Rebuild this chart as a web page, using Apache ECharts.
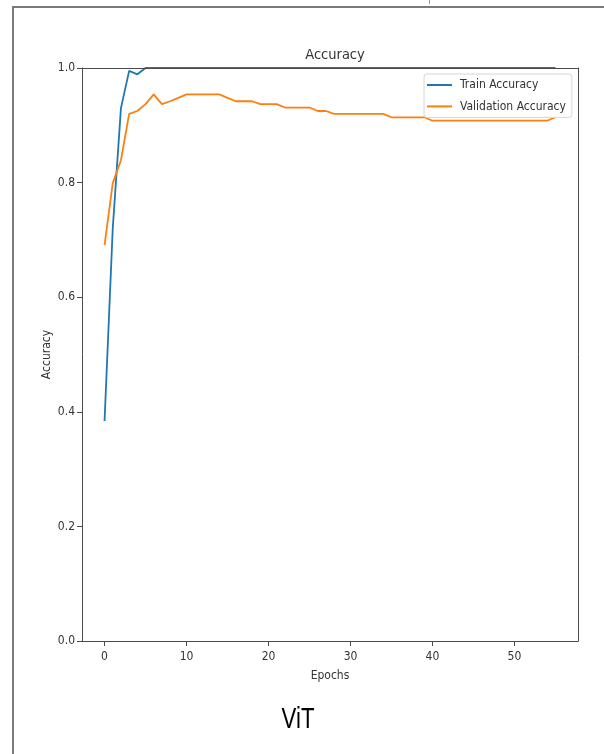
<!DOCTYPE html>
<html>
<head>
<meta charset="utf-8">
<title>ViT accuracy</title>
<script src="https://cdn.jsdelivr.net/npm/echarts@6/dist/echarts.min.js"></script>
<style>
  html, body { margin: 0; padding: 0; background: #ffffff; }
  #chart { width: 604px; height: 754px; }
</style>
</head>
<body>
<div id="chart"></div>
<script>
// Per-epoch accuracy of the ViT model
const epochs = Array.from({ length: 56 }, (_, i) => i);
const trainAccuracy = [
  0.384, 0.720, 0.930, 0.995, 0.989, 1.000, 1.000, 1.000, 1.000, 1.000,
  1.000, 1.000, 1.000, 1.000, 1.000, 1.000, 1.000, 1.000, 1.000, 1.000,
  1.000, 1.000, 1.000, 1.000, 1.000, 1.000, 1.000, 1.000, 1.000, 1.000,
  1.000, 1.000, 1.000, 1.000, 1.000, 1.000, 1.000, 1.000, 1.000, 1.000,
  1.000, 1.000, 1.000, 1.000, 1.000, 1.000, 1.000, 1.000, 1.000, 1.000,
  1.000, 1.000, 1.000, 1.000, 1.000, 1.000
];
const validationAccuracy = [
  0.691, 0.799, 0.839, 0.920, 0.925, 0.937, 0.954, 0.937, 0.942, 0.948,
  0.954, 0.954, 0.954, 0.954, 0.954, 0.948, 0.942, 0.942, 0.942, 0.937,
  0.937, 0.937, 0.931, 0.931, 0.931, 0.931, 0.925, 0.925, 0.920, 0.920,
  0.920, 0.920, 0.920, 0.920, 0.920, 0.914, 0.914, 0.914, 0.914, 0.914,
  0.908, 0.908, 0.908, 0.908, 0.908, 0.908, 0.908, 0.908, 0.908, 0.908,
  0.908, 0.908, 0.908, 0.908, 0.908, 0.914
];
const xTicks = [0, 10, 20, 30, 40, 50];
const yTicks = [0.0, 0.2, 0.4, 0.6, 0.8, 1.0];

const FONT = '"DejaVu Sans Condensed", "DejaVu Sans", sans-serif';
const INK = '#333333';
const SPINE = '#4a4a4a';

const pairs = vals => epochs.map((e, i) => [e, vals[i]]);

const chart = echarts.init(document.getElementById('chart'), null, { renderer: 'canvas' });

chart.setOption({
  animation: false,
  backgroundColor: '#ffffff',
  title: {
    text: 'Accuracy',
    left: 330,
    top: 43,
    textAlign: 'center',
    textStyle: { fontFamily: FONT, fontSize: 14.5, fontWeight: 'normal', color: INK }
  },
  legend: {
    orient: 'vertical',
    left: 424,
    top: 74,
    padding: [4, 6, 4, 3],
    itemGap: 7.4,
    itemWidth: 25,
    itemHeight: 2,
    icon: 'rect',
    backgroundColor: '#ffffff',
    borderColor: '#d6d6d6',
    borderWidth: 1,
    borderRadius: 3,
    textStyle: { fontFamily: FONT, fontSize: 12, color: INK, lineHeight: 14, padding: [0, 0, 0, 3] },
    data: ['Train Accuracy', 'Validation Accuracy']
  },
  grid: { left: 82, right: 26, top: 68, bottom: 113, containLabel: false },
  xAxis: [
    {
      type: 'value',
      min: -2.75,
      max: 57.75,
      name: 'Epochs',
      nameLocation: 'middle',
      nameGap: 29,
      nameMoveOverlap: false,
      nameTextStyle: { fontFamily: FONT, fontSize: 12, color: INK },
      splitLine: { show: false },
      axisLine: { show: true, onZero: false, lineStyle: { color: SPINE, width: 1 } },
      axisTick: { show: true, inside: false, length: 5, customValues: xTicks, lineStyle: { color: SPINE } },
      axisLabel: {
        customValues: xTicks,
        margin: 10,
        fontFamily: FONT, fontSize: 12, color: INK,
        formatter: v => String(v)
      },
      z: 10
    },
    {
      type: 'value',
      position: 'top',
      min: -2.75,
      max: 57.75,
      splitLine: { show: false },
      axisLine: { show: true, onZero: false, lineStyle: { color: SPINE, width: 1 } },
      axisTick: { show: false },
      axisLabel: { show: false },
      z: 10
    }
  ],
  yAxis: [
    {
      type: 'value',
      min: 0,
      max: 1,
      interval: 0.2,
      name: 'Accuracy',
      nameLocation: 'middle',
      nameGap: 29,
      nameMoveOverlap: false,
      nameTextStyle: { fontFamily: FONT, fontSize: 12, color: INK },
      splitLine: { show: false },
      axisLine: { show: true, onZero: false, lineStyle: { color: SPINE, width: 1 } },
      axisTick: { show: true, inside: false, length: 5, lineStyle: { color: SPINE } },
      axisLabel: {
        margin: 7,
        fontFamily: FONT, fontSize: 12, color: INK,
        formatter: v => v.toFixed(1)
      },
      z: 10
    },
    {
      type: 'value',
      position: 'right',
      min: 0,
      max: 1,
      interval: 0.2,
      splitLine: { show: false },
      axisLine: { show: true, onZero: false, lineStyle: { color: SPINE, width: 1 } },
      axisTick: { show: false },
      axisLabel: { show: false },
      z: 10
    }
  ],
  series: [
    {
      name: 'Train Accuracy',
      type: 'line',
      data: pairs(trainAccuracy),
      showSymbol: false,
      symbol: 'none',
      color: '#1f77b4',
      lineStyle: { width: 1.8, color: '#1f77b4' },
      z: 2
    },
    {
      name: 'Validation Accuracy',
      type: 'line',
      data: pairs(validationAccuracy),
      showSymbol: false,
      symbol: 'none',
      color: '#ff7f0e',
      lineStyle: { width: 1.8, color: '#ff7f0e' },
      z: 3
    }
  ],
  graphic: [
    // page frame around the figure
    { type: 'line', shape: { x1: 12, y1: 7, x2: 604, y2: 7 }, style: { stroke: '#7a7a7a', lineWidth: 2 }, silent: true },
    { type: 'line', shape: { x1: 13, y1: 7, x2: 13, y2: 754 }, style: { stroke: '#7a7a7a', lineWidth: 2 }, silent: true },
    { type: 'line', shape: { x1: 429.5, y1: 0, x2: 429.5, y2: 4 }, style: { stroke: '#9a9a9a', lineWidth: 1 }, silent: true },
    // model caption below the chart
    {
      type: 'text',
      x: 298,
      y: 720,
      scaleX: 0.74,
      style: {
        text: 'ViT',
        fontFamily: '"Liberation Sans", Arial, sans-serif',
        fontSize: 30,
        fill: '#000000',
        textAlign: 'center',
        textVerticalAlign: 'middle'
      },
      silent: true
    }
  ]
});
</script>
</body>
</html>
